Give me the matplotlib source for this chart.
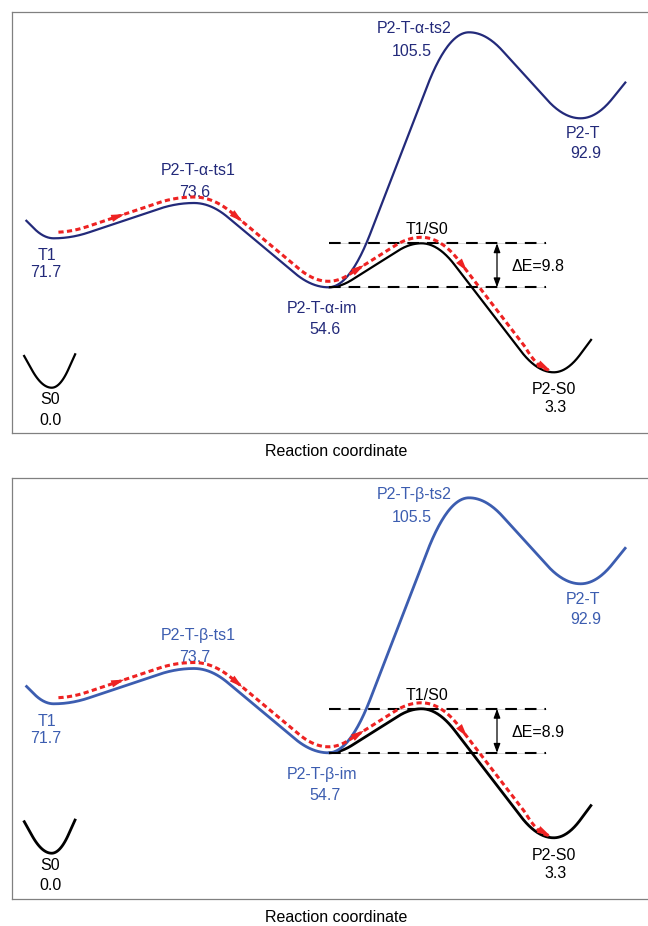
import numpy as np
import matplotlib
matplotlib.use('Agg')
import matplotlib.pyplot as plt

plt.rcParams['font.family'] = ['Liberation Sans', 'DejaVu Sans']
plt.rcParams['font.size'] = 11.5

# ---- states along the reaction coordinate ----
states = ['S0', 'T1', 'ts1', 'im', 'ts2', 'P2-T', 'T1/S0', 'P2-S0']
rc_x = [39.7, 41.7, 182.0, 316.5, 457.0, 568.6, 409.5, 541.7]

# relative energies (kcal/mol); the T1/S0 crossing sits dE above the intermediate
alpha_labels = ['S0', 'T1', 'P2-T-α-ts1', 'P2-T-α-im', 'P2-T-α-ts2', 'P2-T', 'T1/S0', 'P2-S0']
alpha_E = [0.0, 71.7, 73.6, 54.6, 105.5, 92.9, None, 3.3]
alpha_dE = 9.8

beta_labels = ['S0', 'T1', 'P2-T-β-ts1', 'P2-T-β-im', 'P2-T-β-ts2', 'P2-T', 'T1/S0', 'P2-S0']
beta_E = [0.0, 71.7, 73.7, 54.7, 105.5, 92.9, None, 3.3]
beta_dE = 8.9

# ---- schematic layout (not to scale) ----
FRAME_H = 421.0
level_h = [45.3, 194.7, 230.0, 145.7, 400.7, 314.7, 189.7, 60.7]   # px above frame bottom
wings = {'T1': (-28.1, 18.3), 'P2-T': (45.4, 36.6), 'P2-S0': (38.0, 33.3),
         'S0L': (-28.1, 32.7), 'S0R': (23.9, 34.4)}
# label offsets: (dx, dy down) in px for name and value
name_off = {'S0': (-2, 11), 'T1': (-7, 16), 'ts1': (4, -34), 'im': (-7, 20),
            'ts2': (-55, -5), 'P2-T': (2, 14), 'T1/S0': (5, -15), 'P2-S0': (0, 16)}
val_off = {'S0': (-1, 31), 'T1': (-8, 33), 'ts1': (1, -12), 'im': (-4, 41),
           'ts2': (-57, 18), 'P2-T': (5, 34), 'P2-S0': (2, 34)}
red_marks = [112, 230, 352, 455]
RED = '#ee2222'


def level_scale(E):
    e = np.array(E, float)
    h = np.array(level_h, float)
    o = np.argsort(e)
    e, h = e[o], h[o]

    def lin(v, a, b):
        v = np.asarray(v, float)
        out = np.interp(v, a, b)
        out = np.where(v < a[0], b[0] + (v - a[0]) * (b[1] - b[0]) / (a[1] - a[0]), out)
        out = np.where(v > a[-1], b[-1] + (v - a[-1]) * (b[-1] - b[-2]) / (a[-1] - a[-2]), out)
        return out
    return (lambda v: lin(v, e, h)), (lambda u: lin(u, h, e))


def ease(t, r=0.25):
    g = np.where(t < r, t**2 / (2 * r),
                 np.where(t > 1 - r, 1 - r - (1 - t)**2 / (2 * r), t - r / 2))
    return g / (1 - r)


def seg(p0, p1, n=140, r=0.25):
    t = np.linspace(0, 1, n)
    return p0[0] + (p1[0] - p0[0]) * t, p0[1] + (p1[1] - p0[1]) * ease(t, r)


def wing(p0, d, n=60, r=0.7):
    t = np.linspace(0, 1, n)
    f = np.where(t < r, t**2 / (2 * r), t - r / 2) / (1 - r / 2)
    x, h = p0[0] + d[0] * t, p0[1] + d[1] * f
    return (x[::-1], h[::-1]) if d[0] < 0 else (x, h)


def join(*parts):
    return (np.concatenate([p[0] for p in parts]),
            np.concatenate([p[1] for p in parts]))


def panel(ax, labels, E, dE, blue, lw):
    E = list(E)
    E[states.index('T1/S0')] = E[states.index('im')] + dE
    fwd, inv = level_scale(E)
    ax.set_yscale('function', functions=(fwd, inv))
    ax.set_xlim(0, 648)
    ax.set_ylim(inv(0.0), inv(FRAME_H))

    P = {s: (x, float(fwd(e))) for s, x, e in zip(states, rc_x, E)}
    En = dict(zip(states, E))
    Lb = dict(zip(states, labels))

    trip = join(wing(P['T1'], wings['T1']), seg(P['T1'], P['ts1']), seg(P['ts1'], P['im']),
                seg(P['im'], P['ts2'], r=0.3), seg(P['ts2'], P['P2-T'], r=0.3),
                wing(P['P2-T'], wings['P2-T']))
    sing = join(seg(P['im'], P['T1/S0']), seg(P['T1/S0'], P['P2-S0']),
                wing(P['P2-S0'], wings['P2-S0']))
    s0 = join(wing(P['S0'], wings['S0L']), wing(P['S0'], wings['S0R']))

    ax.plot(s0[0], inv(s0[1]), color='black', lw=lw, solid_capstyle='butt')
    ax.plot(sing[0], inv(sing[1]), color='black', lw=lw, solid_capstyle='butt')
    ax.plot(trip[0], inv(trip[1]), color=blue, lw=lw, solid_capstyle='butt')

    # dashed guide lines and the gap arrow
    x0, x1, xa = 317, 534, 485
    for s in ('T1/S0', 'im'):
        ax.plot([x0, x1], [En[s]] * 2, color='#d0d0d0', lw=0.6, zorder=1)
        ax.plot([x0, x1], [En[s]] * 2, color='black', lw=1.5, dashes=(5.6, 3.8), zorder=2)
    ax.annotate('', xy=(xa, En['im']), xytext=(xa, En['T1/S0']),
                arrowprops=dict(arrowstyle='<|-|>,head_length=0.6,head_width=0.22',
                                color='black', lw=0.9, shrinkA=0, shrinkB=0,
                                mutation_scale=9))
    mid = inv((P['im'][1] + P['T1/S0'][1]) / 2)
    ax.annotate(f'ΔE={dE:.1f}', xy=(xa, mid), xytext=(15, -5.8),
                textcoords='offset pixels', ha='left', va='baseline')

    # red reaction route, drawn just above the curves
    route = join(seg(P['T1'], P['ts1']), seg(P['ts1'], P['im']),
                 seg(P['im'], P['T1/S0']), seg(P['T1/S0'], P['P2-S0']))
    keep = (route[0] >= P['T1'][0] + 4.3) & (route[0] <= P['P2-S0'][0] - 3)
    rx, rh = route[0][keep], route[1][keep]
    tx, th = np.gradient(rx), np.gradient(rh)
    nn = np.hypot(tx, th)
    d = 6.0 * np.clip((rx[-1] - rx) / 30.0, 0.3, 1.0)
    ox, oh = rx - d * th / nn, rh + d * tx / nn
    ax.plot(ox, inv(oh), color=RED, lw=2.2, dashes=(1.7, 1.1), zorder=4)

    arc = np.concatenate([[0], np.cumsum(np.hypot(np.diff(ox), np.diff(oh)))])
    head = dict(arrowstyle='-|>,head_length=0.8,head_width=0.22', color=RED, lw=0,
                shrinkA=0, shrinkB=0, mutation_scale=12)

    def red_head(i):
        j = int(np.searchsorted(arc, arc[i] - 16))
        ax.annotate('', xy=(ox[i], inv(oh[i])), xytext=(ox[j], inv(oh[j])),
                    arrowprops=head, zorder=5)

    for xm in red_marks:
        red_head(int(np.argmin(np.abs(ox - xm))))
    red_head(len(ox) - 1)

    # state labels
    for s in states:
        c = 'black' if s in ('S0', 'T1/S0', 'P2-S0') else blue
        dx, dy = name_off[s]
        ax.annotate(Lb[s], xy=(P[s][0], En[s]), xytext=(dx, -dy - 5.8),
                    textcoords='offset pixels', ha='center', va='baseline', color=c)
        if s in val_off:
            dx, dy = val_off[s]
            ax.annotate(f'{En[s]:.1f}', xy=(P[s][0], En[s]), xytext=(dx, -dy - 5.8),
                        textcoords='offset pixels', ha='center', va='baseline', color=c)

    ax.tick_params(which='both', length=0, labelleft=False, labelbottom=False)
    ax.set_xticks([])
    ax.set_yticks([])
    for sp in ax.spines.values():
        sp.set_color('#808080')
        sp.set_linewidth(0.9)
    ax.set_xlabel('Reaction coordinate', labelpad=8)


fig = plt.figure(figsize=(6.48, 9.26), dpi=100)
ax1 = fig.add_axes([12 / 648, (926 - 433) / 926, 1.0, FRAME_H / 926])
ax2 = fig.add_axes([12 / 648, (926 - 898.5) / 926, 1.0, FRAME_H / 926])
panel(ax1, alpha_labels, alpha_E, alpha_dE, '#232a7a', 1.6)
panel(ax2, beta_labels, beta_E, beta_dE, '#3c5db0', 2.0)

fig.savefig('out.png', dpi=100)
